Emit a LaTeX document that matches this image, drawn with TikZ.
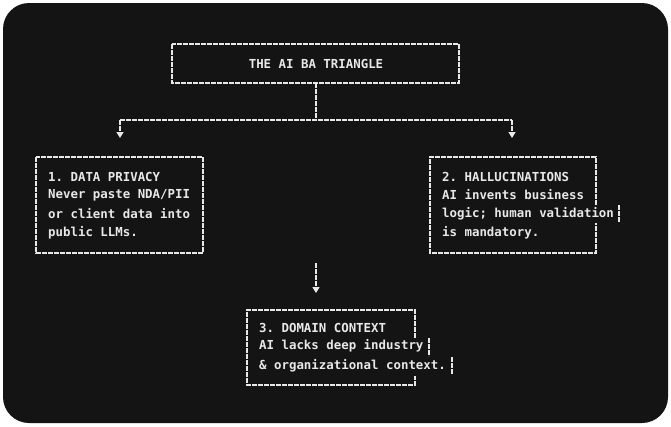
\documentclass[tikz,border=0pt]{standalone}
\usepackage{fontspec}
\setmonofont{DejaVu Sans Mono}
\usetikzlibrary{arrows.meta,positioning}
\definecolor{term}{RGB}{20,20,20}
\definecolor{ink}{RGB}{232,232,232}
\begin{document}
\begin{tikzpicture}[
  x=1pt, y=-1pt,
  box/.style={draw=ink, line width=1.3pt, dash pattern=on 5pt off 1pt},
  txt/.style={anchor=west, inner sep=0pt, text=ink, font=\ttfamily\bfseries\fontsize{12.4}{12.4}\selectfont},
  wire/.style={draw=ink, line width=1.3pt, dash pattern=on 5pt off 1pt},
  arrow/.style={wire, -{Triangle[length=6pt, width=7pt]}}
]
\useasboundingbox (0,0) rectangle (671,426);
\fill[term, rounded corners=26pt] (3,3) rectangle (668,423);

% title
\draw[box] (172,44) rectangle (459,83);
\node[txt, anchor=center] (title) at (316,64) {THE AI BA TRIANGLE};

% boxes
\draw[box] (36,157) rectangle (203,253);
\node[txt] (p1) at (48,177) {1. DATA PRIVACY};
\node[txt] (p2) at (48,195) {Never paste NDA/PII};
\node[txt] (p3) at (48,214) {or client data into};
\node[txt] (p4) at (48,233) {public LLMs.};

\draw[box] (596,205) -- (596,157) -- (430,157) -- (430,253) -- (596,253) -- (596,223);
\draw[box] (619,205) -- (619,223);
\node[txt] (h1) at (442,177) {2. HALLUCINATIONS};
\node[txt] (h2) at (442,195) {AI invents business};
\node[txt] (h3) at (442,214) {logic; human validation};
\node[txt] (h4) at (442,233) {is mandatory.};

\draw[box] (415,338) -- (415,310) -- (247,310) -- (247,385) -- (415,385) -- (415,376);
\draw[box] (429,338) -- (429,356);
\draw[box] (452,357) -- (452,375);
\node[txt] (d1) at (259,328) {3. DOMAIN CONTEXT};
\node[txt] (d2) at (259,346) {AI lacks deep industry};
\node[txt] (d3) at (259,366) {\& organizational context.};

% connectors
\coordinate (split) at (316,120);
\coordinate (left) at (120,120);
\coordinate (right) at (512,120);
\draw[wire] (316,83) -- (split);
\draw[wire] (left) -- (right);
\draw[arrow] (left) -- (120,138);
\draw[arrow] (right) -- (512,138);
\draw[arrow] (316,263) -- (316,293);
\end{tikzpicture}
\end{document}
